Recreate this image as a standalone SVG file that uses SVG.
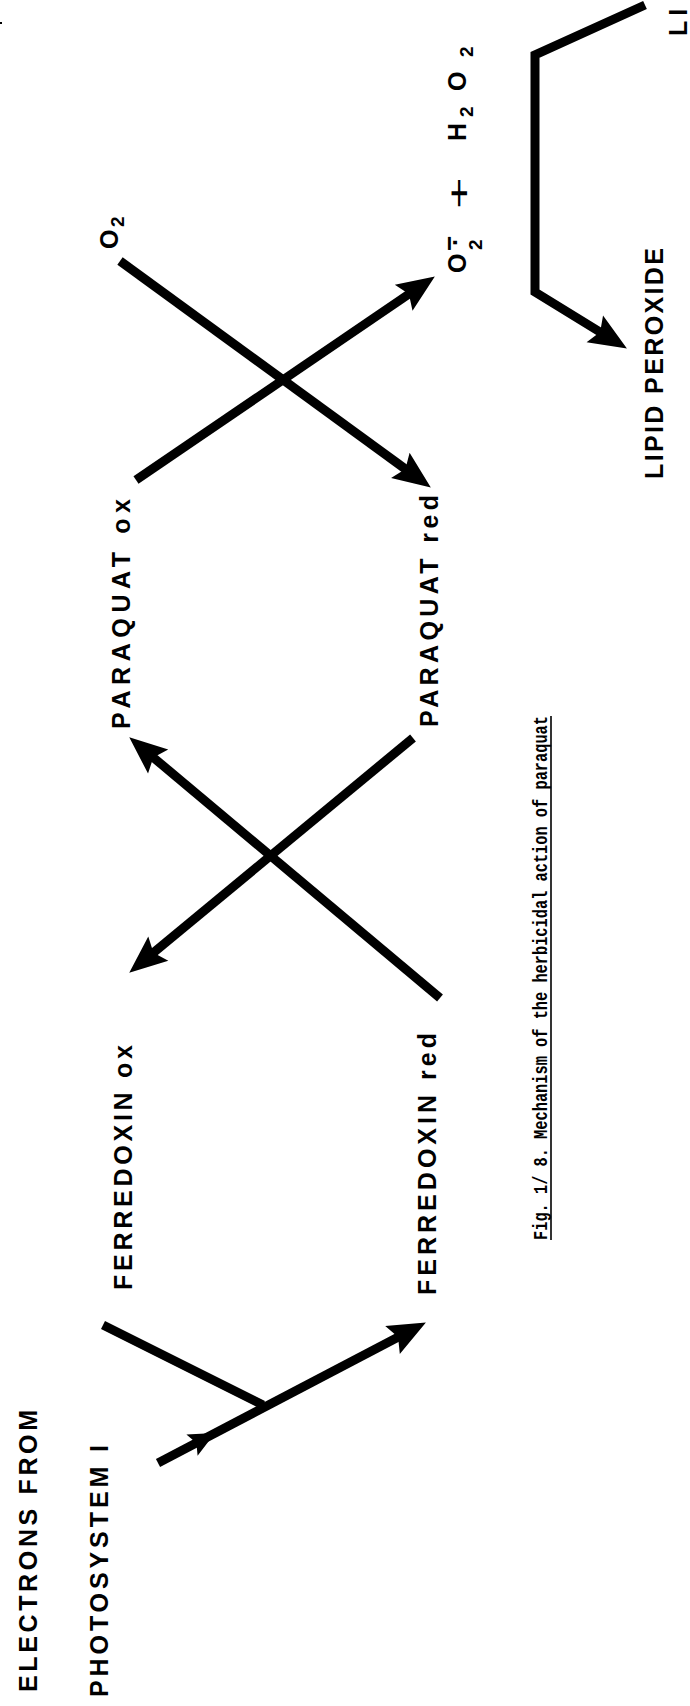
<svg xmlns="http://www.w3.org/2000/svg" width="690" height="1706" viewBox="0 0 690 1706">
<style>
.lbl{font-family:"Liberation Sans",Arial,sans-serif;font-weight:bold;font-size:25px;fill:#000}
.sub{font-family:"Liberation Sans",Arial,sans-serif;font-weight:bold;font-size:19px;fill:#000}
.cap{font-family:"Liberation Mono","Courier New",monospace;font-weight:bold;font-size:21px;fill:#000}
.ln{fill:none;stroke:#000;stroke-width:9;stroke-linecap:butt;stroke-linejoin:miter}
</style>
<defs>
<marker id="ah" markerUnits="userSpaceOnUse" markerWidth="44" markerHeight="40" viewBox="-16 -18 42 36" refX="0" refY="0" orient="auto">
<path d="M22,0 L-14,-15 L-8,0 L-14,15 Z" fill="#000"/>
</marker>
</defs>
<rect width="690" height="1706" fill="#fff"/>
<rect x="0" y="22" width="2" height="2" fill="#000"/>

<g id="connectors">
<line class="ln" x1="103" y1="1325" x2="263" y2="1405"/>
<line class="ln" x1="158" y1="1463" x2="405.5" y2="1333.2" marker-end="url(#ah)"/>
<polygon points="215,1433.1 197.6,1455.8 196.4,1442.9 186.4,1434.6" fill="#000"/>
<line class="ln" x1="440" y1="998" x2="146.9" y2="752.1" marker-end="url(#ah)"/>
<line class="ln" x1="413" y1="738" x2="147" y2="958" marker-end="url(#ah)"/>
<line class="ln" x1="120" y1="261" x2="412.2" y2="474" marker-end="url(#ah)"/>
<line class="ln" x1="136" y1="480" x2="415.8" y2="289.4" marker-end="url(#ah)"/>
<polyline class="ln" points="645,5 535,55 535,292 607.3,336.5" marker-end="url(#ah)"/>
</g>

<g id="electrons-from-photosystem-i">
<text class="lbl" transform="translate(37,1692) rotate(-90)" textLength="282" lengthAdjust="spacing">ELECTRONS FROM</text>
<text class="lbl" transform="translate(108,1697) rotate(-90)" textLength="252" lengthAdjust="spacing">PHOTOSYSTEM I</text>
</g>
<g id="ferredoxin-ox">
<text class="lbl" transform="translate(132,1290) rotate(-90)" textLength="245" lengthAdjust="spacing">FERREDOXIN ox</text>
</g>
<g id="ferredoxin-red">
<text class="lbl" transform="translate(436,1295) rotate(-90)" textLength="262" lengthAdjust="spacing">FERREDOXIN red</text>
</g>
<g id="paraquat-ox">
<text class="lbl" transform="translate(130,729) rotate(-90)" textLength="230" lengthAdjust="spacing">PARAQUAT ox</text>
</g>
<g id="paraquat-red">
<text class="lbl" transform="translate(438,727) rotate(-90)" textLength="232" lengthAdjust="spacing">PARAQUAT red</text>
</g>
<g id="oxygen">
<text class="lbl" transform="translate(118,249) rotate(-90)">O<tspan x="22" dy="6" style="font-size:19px">2</tspan></text>
</g>
<g id="superoxide">
<text class="lbl" transform="translate(466,273) rotate(-90)">O</text>
<text class="sub" transform="translate(482,250) rotate(-90)">2</text>
<text class="lbl" transform="translate(464,246) rotate(-90)">·</text>
<text class="lbl" style="font-size:26px" transform="translate(458,251) rotate(-90)">−</text>
</g>
<g id="plus">
<text class="lbl" style="font-size:31px;font-weight:normal" transform="translate(470,209) rotate(-90) scale(1.75,1)">+</text>
</g>
<g id="hydrogen-peroxide">
<text class="lbl" transform="translate(466,141) rotate(-90)"><tspan x="0">H</tspan><tspan x="24" dy="7" style="font-size:19px">2</tspan><tspan x="50" dy="-7">O</tspan><tspan x="84" dy="7" style="font-size:19px">2</tspan></text>
</g>
<g id="lipid-peroxide">
<text class="lbl" transform="translate(663,479) rotate(-90)" textLength="231" lengthAdjust="spacing">LIPID PEROXIDE</text>
</g>
<g id="lipid-peroxide-cut">
<text class="lbl" transform="translate(687,36) rotate(-90)" style="letter-spacing:5px">LI</text>
</g>
<g id="caption">
<text class="cap" transform="translate(547,1240) rotate(-90)" textLength="524" lengthAdjust="spacingAndGlyphs">Fig. 1/ 8. Mechanism of the herbicidal action of paraquat</text>
<line x1="551" y1="716" x2="551" y2="1240" stroke="#000" stroke-width="1.6"/>
</g>
</svg>
